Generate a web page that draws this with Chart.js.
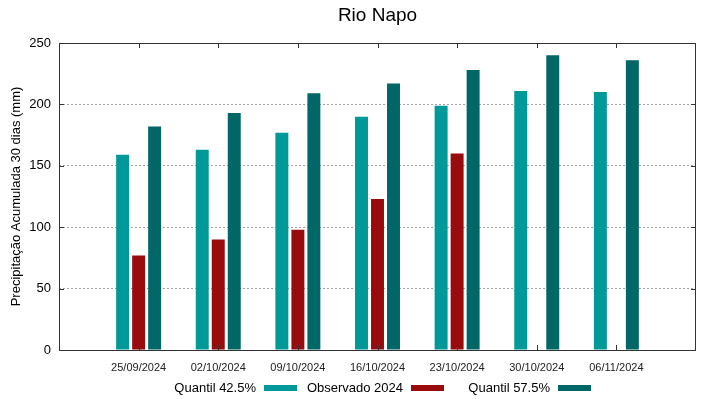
<!DOCTYPE html>
<html>
<head>
<meta charset="utf-8">
<script src="https://cdn.jsdelivr.net/npm/chart.js@4.4.1/dist/chart.umd.min.js"></script>
<style>
  body { margin: 0; background: #fff; }
  #grafico { display: block; }
</style>
</head>
<body>
<canvas id="grafico" width="719" height="399"></canvas>
<script>
const fechas = ['25/09/2024', '02/10/2024', '09/10/2024', '16/10/2024', '23/10/2024', '30/10/2024', '06/11/2024'];
const quantil425 = [159, 163, 177, 190, 199, 211, 210];
const observado = [77, 90, 98, 123, 160, null, null];
const quantil575 = [182, 193, 209, 217, 228, 240, 236];
const yTicks = [0, 50, 100, 150, 200, 250];

// una categoria vacia a cada lado, como en el grafico original
const etiquetas = [''].concat(fechas, ['']);
const pad = arr => [null].concat(arr, [null]);

const marco = {
  id: 'marco',
  afterDraw(chart) {
    const { ctx, chartArea: a, scales } = chart;
    ctx.save();
    ctx.strokeStyle = '#333';
    ctx.lineWidth = 1;
    ctx.strokeRect(a.left + 0.5, a.top + 0.5, a.right - a.left - 1, a.bottom - a.top);
    ctx.beginPath();
    // marcas hacia dentro, eje x arriba y abajo
    for (let i = 1; i <= fechas.length; i++) {
      const x = Math.round(scales.x.getPixelForValue(i)) + 0.5;
      ctx.moveTo(x, a.bottom); ctx.lineTo(x, a.bottom - 5);
      ctx.moveTo(x, a.top); ctx.lineTo(x, a.top + 5);
    }
    // marcas eje y izquierda y derecha
    yTicks.forEach(v => {
      const y = Math.round(scales.y.getPixelForValue(v)) + 0.5;
      ctx.moveTo(a.left, y); ctx.lineTo(a.left + 5, y);
      ctx.moveTo(a.right, y); ctx.lineTo(a.right - 5, y);
    });
    ctx.stroke();
    // titulo centrado sobre el area del grafico
    ctx.fillStyle = '#000';
    ctx.font = '19px "Liberation Sans", Arial, sans-serif';
    ctx.textAlign = 'center';
    ctx.textBaseline = 'middle';
    ctx.fillText('Rio Napo', (a.left + a.right) / 2, 16);
    // leyenda estilo gnuplot: texto justificado a la derecha y despues la muestra
    ctx.font = '13px "Liberation Sans", Arial, sans-serif';
    ctx.textAlign = 'right';
    const y = 388;
    chart.data.datasets.forEach((ds, i) => {
      const fin = 256 + i * 147;
      ctx.fillStyle = '#000';
      ctx.fillText(ds.label, fin, y);
      ctx.fillStyle = ds.backgroundColor;
      ctx.fillRect(fin + 8, y - 3, 33, 6);
    });
    ctx.restore();
  }
};

Chart.defaults.font.family = '"Liberation Sans", Arial, sans-serif';
Chart.defaults.color = '#000';

new Chart('grafico', {
  type: 'bar',
  data: {
    labels: etiquetas,
    datasets: [{
      label: 'Quantil 42.5%',
      data: pad(quantil425),
      backgroundColor: '#009999'
    }, {
      label: 'Observado 2024',
      data: pad(observado),
      backgroundColor: '#990c0e'
    }, {
      label: 'Quantil 57.5%',
      data: pad(quantil575),
      backgroundColor: '#006666'
    }]
  },
  options: {
    responsive: false,
    animation: false,
    categoryPercentage: 0.603,
    barPercentage: 0.81,
    layout: { padding: { top: 43, right: 23, left: 0, bottom: 24 } },
    plugins: {
      legend: { display: false },
      tooltip: { enabled: false }
    },
    scales: {
      x: {
        offset: false,
        grid: { display: false, drawTicks: false },
        border: { display: false },
        ticks: {
          autoSkip: false,
          maxRotation: 0,
          padding: 11,
          font: { size: 11 },
          color: '#222'
        },
        afterFit(scale) { scale.height = 25; }
      },
      y: {
        min: 0,
        max: 250,
        afterBuildTicks(scale) { scale.ticks = yTicks.map(v => ({ value: v })); },
        grid: {
          drawTicks: false,
          color: ctx => (ctx.tick.value === 0 || ctx.tick.value === 250) ? 'rgba(0,0,0,0)' : '#a0a0a0',
          lineWidth: 1
        },
        border: { display: false, dash: [2, 2] },
        ticks: {
          padding: 8,
          font: { size: 13 },
          color: '#000'
        },
        title: {
          display: true,
          text: 'Precipitação Acumulada 30 dias (mm)',
          font: { size: 13 },
          padding: { top: 9, bottom: 0 }
        },
        afterFit(scale) { scale.width = 59; }
      }
    }
  },
  plugins: [marco]
});
</script>
</body>
</html>
